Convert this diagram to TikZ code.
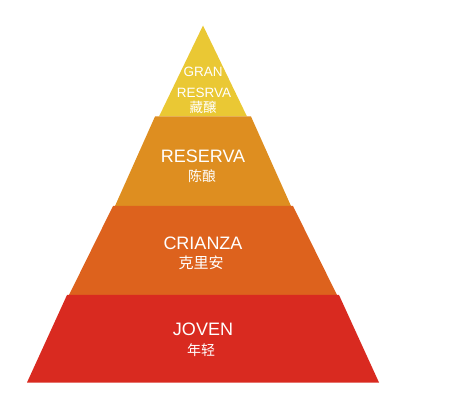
\documentclass[tikz,border=0pt]{standalone}
\usepackage{fontspec}
\setmainfont{Liberation Sans}
\newfontfamily\cjk{Noto Sans CJK SC}
\definecolor{granyellow}{RGB}{234,200,52}
\definecolor{reservaorange}{RGB}{222,142,32}
\definecolor{crianzaorange}{RGB}{221,98,29}
\definecolor{jovenred}{RGB}{217,42,32}

\begin{document}
\begin{tikzpicture}[x=1pt,y=-1pt,
    tiername/.style={text=white,inner sep=0pt,font=\fontsize{18}{18}\selectfont},
    smallname/.style={text=white,inner sep=0pt,font=\fontsize{13.5}{13.5}\selectfont},
    hanzi/.style={text=white,inner sep=0pt,font=\cjk\fontsize{14}{14}\selectfont}]
    \useasboundingbox (0,0) rectangle (460,419);
    % tiers, top to bottom
    \fill[granyellow] (203,25.5) -- (247,116.5) -- (159,116.5) -- cycle;
    \fill[reservaorange] (155,116.5) -- (251,116.5) -- (291,206) -- (115,206) -- cycle;
    \fill[crianzaorange] (113,206) -- (293,206) -- (337,295) -- (69,295) -- cycle;
    \fill[jovenred] (67,295) -- (339,295) -- (379,382.5) -- (27,382.5) -- cycle;
    % texts
    \node[smallname] (gran) at (203,71.5) {GRAN};
    \node[smallname] (gran-b) at (204,92.5) {RESRVA};
    \node[hanzi,font=\cjk\fontsize{13.5}{13.5}\selectfont] (gran-zh) at (203,107) {藏醸};
    \node[tiername] (reserva) at (203,156) {RESERVA};
    \node[hanzi] (reserva-zh) at (202,176) {陈酿};
    \node[tiername] (crianza) at (203,243) {CRIANZA};
    \node[hanzi,font=\cjk\fontsize{15}{15}\selectfont] (crianza-zh) at (201,263) {克里安};
    \node[tiername] (joven) at (203,329) {JOVEN};
    \node[hanzi] (joven-zh) at (201,350) {年轻};
\end{tikzpicture}
\end{document}
